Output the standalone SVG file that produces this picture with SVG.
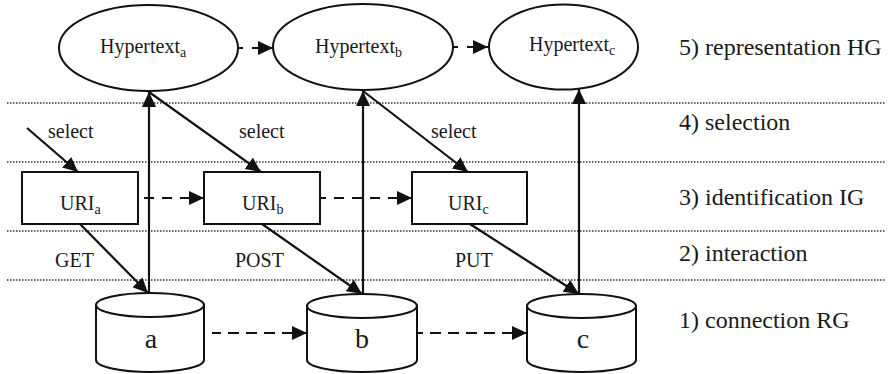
<svg xmlns="http://www.w3.org/2000/svg" width="889" height="374" viewBox="0 0 889 374" font-family="'Liberation Serif', 'Times New Roman', Times, 'DejaVu Serif', serif">
<defs>
<marker id="ah" markerUnits="userSpaceOnUse" markerWidth="16" markerHeight="14" refX="15" refY="7" orient="auto-start-reverse">
<path d="M0,0 L15,7 L0,14 z" fill="#111"/>
</marker>
<style>
text{font-family:'Liberation Serif','Times New Roman',Times,'DejaVu Serif',serif;fill:#1a1a1a}
.lbl{font-size:20px}
.side{font-size:24px}
.big{font-size:28px}
.sub{font-size:14px}
.node{fill:#fff;stroke:#111;stroke-width:2}
.sep{stroke:#333;stroke-width:1.5;stroke-dasharray:1.5 1.5;fill:none}
.con{stroke:#111;stroke-width:2.2;fill:none}
.solid{marker-end:url(#ah)}
.dash{marker-start:url(#ah)}
</style>
</defs>
<rect width="889" height="374" fill="#fff"/>
<g id="separators">
<line class="sep" x1="7" y1="103" x2="885" y2="103"/>
<line class="sep" x1="7" y1="162" x2="885" y2="162"/>
<line class="sep" x1="7" y1="231" x2="885" y2="231"/>
<line class="sep" x1="7" y1="280" x2="885" y2="280"/>
</g>
<g id="layer-labels">
<text class="side" x="679" y="55">5) representation HG</text>
<text class="side" x="679" y="130">4) selection</text>
<text class="side" x="679" y="205">3) identification IG</text>
<text class="side" x="679" y="261">2) interaction</text>
<text class="side" x="679" y="328">1) connection RG</text>
</g>
<g id="hypertext-a">
<ellipse class="node" cx="148.5" cy="48" rx="89.5" ry="43"/>
<text class="lbl" x="100" y="53">Hypertext<tspan class="sub" dy="4">a</tspan></text>
</g>
<g id="hypertext-b">
<ellipse class="node" cx="363" cy="47" rx="90" ry="43"/>
<text class="lbl" x="315" y="53">Hypertext<tspan class="sub" dy="4">b</tspan></text>
</g>
<g id="hypertext-c">
<ellipse class="node" cx="563.5" cy="47" rx="74.5" ry="42.5"/>
<text class="lbl" x="529" y="51">Hypertext<tspan class="sub" dy="4">c</tspan></text>
</g>
<g id="uri-a">
<rect class="node" x="22" y="172" width="116" height="52"/>
<text class="lbl" x="60" y="210">URI<tspan class="sub" dy="4">a</tspan></text>
</g>
<g id="uri-b">
<rect class="node" x="204" y="172" width="116" height="52"/>
<text class="lbl" x="242" y="210">URI<tspan class="sub" dy="4">b</tspan></text>
</g>
<g id="uri-c">
<rect class="node" x="412" y="172" width="115" height="52"/>
<text class="lbl" x="448" y="210">URI<tspan class="sub" dy="4">c</tspan></text>
</g>
<g id="resource-a">
<path class="node" d="M96,305 L96,360 A54,12 0 0 0 204,360 L204,305 Z"/>
<ellipse class="node" cx="150" cy="305" rx="54" ry="12"/>
<text class="big" x="151" y="348" text-anchor="middle">a</text>
</g>
<g id="resource-b">
<path class="node" d="M307,306 L307,360 A55,12 0 0 0 417,360 L417,306 Z"/>
<ellipse class="node" cx="362" cy="306" rx="55" ry="12"/>
<text class="big" x="362" y="348" text-anchor="middle">b</text>
</g>
<g id="resource-c">
<path class="node" d="M527,306 L527,360 A54.5,12 0 0 0 636,360 L636,306 Z"/>
<ellipse class="node" cx="581.5" cy="306" rx="54.5" ry="12"/>
<text class="big" x="583" y="348" text-anchor="middle">c</text>
</g>
<g id="connectors">
<line class="con dash" x1="273" y1="48" x2="237" y2="48" stroke-dasharray="21 9 6 100"/>
<line class="con dash" x1="488" y1="47" x2="453" y2="47" stroke-dasharray="21 9 5 100"/>
<line class="con dash" x1="204" y1="198" x2="143" y2="198" stroke-dasharray="10 8" stroke-dashoffset="4"/>
<line class="con dash" x1="412" y1="198" x2="320" y2="198" stroke-dasharray="10 8" stroke-dashoffset="4"/>
<line class="con dash" x1="307" y1="333" x2="212" y2="333" stroke-dasharray="11 7" stroke-dashoffset="4"/>
<line class="con dash" x1="527" y1="333" x2="417" y2="333" stroke-dasharray="11 7" stroke-dashoffset="4"/>
<line class="con solid" x1="149" y1="293" x2="149" y2="92"/>
<line class="con solid" x1="363" y1="294" x2="363" y2="91"/>
<line class="con solid" x1="579" y1="294" x2="579" y2="89"/>
<line class="con solid" x1="27" y1="128" x2="78" y2="172"/>
<line class="con solid" x1="149" y1="92" x2="261" y2="172"/>
<line class="con solid" x1="363" y1="91" x2="468" y2="172"/>
<line class="con solid" x1="80" y1="224" x2="148" y2="293"/>
<line class="con solid" x1="262" y1="224" x2="362" y2="294"/>
<line class="con solid" x1="470" y1="224" x2="579" y2="294"/>
</g>
<g id="connector-labels">
<text class="lbl" x="48" y="138">select</text>
<text class="lbl" x="239" y="138">select</text>
<text class="lbl" x="431" y="138">select</text>
<text class="lbl" x="55" y="267">GET</text>
<text class="lbl" x="235" y="267">POST</text>
<text class="lbl" x="455" y="267">PUT</text>
</g>
</svg>
